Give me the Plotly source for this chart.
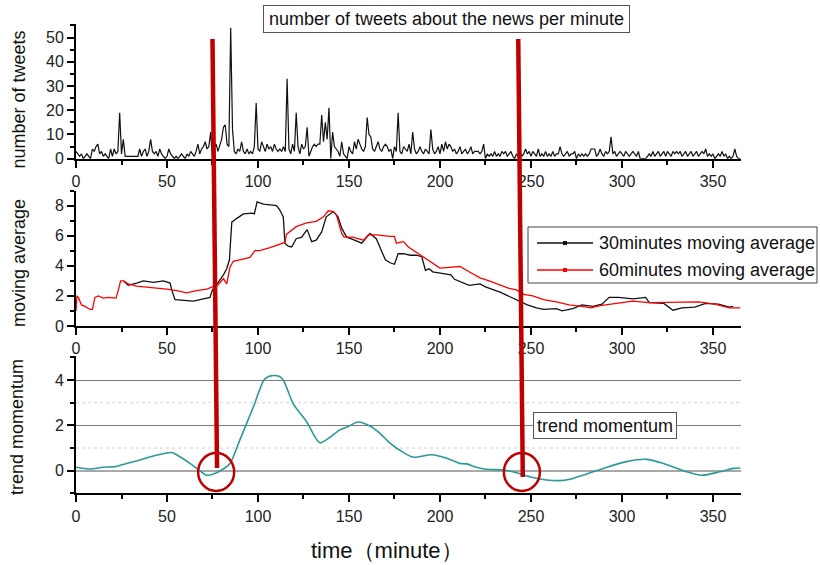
import plotly.graph_objects as go

# ---------------- data ----------------
tweets = (
    [3, 2, 1, 2, 0, 1, 2, 1, 0, 4] +
    [3, 5, 6, 2, 3, 1, 2, 1, 0, 4] +
    [1, 4, 2, 3, 19, 2, 8, 1, 1, 1] +
    [1, 1, 1, 1, 1, 4, 1, 3, 4, 1] +
    [3, 8, 3, 2, 3, 1, 4, 2, 1, 0] +
    [1, 4, 2, 1, 0, 1, 0, 1, 2, 1] +
    [0, 2, 1, 3, 2, 1, 3, 6, 2, 4] +
    [5, 7, 4, 5, 11, 0, 5, 6, 3, 6] +
    [8, 13, 14, 6, 5, 54, 12, 3, 2, 4] +
    [3, 7, 3, 2, 4, 2, 3, 2, 5, 23] +
    [4, 3, 7, 5, 3, 6, 4, 5, 3, 6] +
    [4, 3, 4, 3, 5, 3, 33, 4, 2, 6] +
    [3, 19, 5, 2, 6, 4, 5, 13, 1, 3] +
    [5, 6, 5, 6, 6, 18, 7, 15, 8, 21] +
    [0, 11, 5, 4, 3, 1, 7, 2, 1, 0] +
    [5, 3, 2, 7, 4, 8, 6, 4, 3, 5] +
    [17, 10, 9, 4, 3, 5, 7, 4, 3, 5] +
    [6, 5, 3, 4, 0, 5, 3, 19, 3, 2] +
    [5, 4, 3, 6, 2, 11, 4, 2, 3, 5] +
    [3, 2, 4, 3, 2, 12, 4, 2, 3, 5] +
    [2, 6, 3, 7, 4, 6, 5, 3, 4, 2] +
    [3, 5, 2, 3, 4, 2, 3, 5, 2, 3] +
    [3, 3, 2, 3, 6, 0, 2, 1, 2, 1] +
    [3, 1, 2, 1, 3, 2, 3, 1, 2, 3] +
    [1, 0, 2, 1, 3, 1, 2, 4, 2, 3] +
    [1, 3, 2, 1, 4, 1, 2, 1, 3, 1] +
    [2, 1, 3, 1, 2, 2, 5, 2, 1, 2] +
    [3, 1, 2, 2, 3, 0, 2, 1, 2, 1] +
    [2, 1, 2, 4, 4, 4, 1, 2, 4, 2] +
    [1, 3, 2, 3, 9, 2, 3, 1, 2, 3] +
    [2, 1, 3, 2, 1, 2, 3, 2, 1, 3] +
    [0, 0, 0, 0, 1, 2, 1, 3, 1, 2] +
    [3, 1, 2, 3, 1, 3, 2, 1, 3, 2] +
    [3, 2, 3, 1, 2, 3, 1, 2, 3, 1] +
    [2, 3, 1, 2, 3, 2, 4, 1, 2, 1] +
    [2, 0, 1, 2, 1, 3, 1, 2, 0, 1] +
    [0, 1, 4, 1, 0, 0]
)
minutes = list(range(len(tweets)))

ma60_t = [0, 0.5, 1.3, 3, 5, 7.7, 9, 10.4, 12.3, 15, 18, 22, 23.3, 24.5, 26, 28.7, 33.3, 38.8,
          44.3, 49.8, 55.3, 60.8, 66.3, 71.8, 75, 78.2, 81, 82.8, 84.6, 86.4, 90, 95.6, 98.3,
          101, 106.6, 112, 114.8, 115.7, 121, 126.7, 132, 136, 138.6, 141.4, 143, 146, 147.3,
          152, 158, 160.6, 165, 172.5, 175, 176, 180, 182.6, 185, 191, 196, 200, 205, 211, 216,
          222, 227, 233, 238, 242, 246, 251, 257, 264, 271, 278, 283, 288, 297, 306, 315, 324,
          333, 342, 351, 359, 365]
ma60_v = [1.0, 2.0, 1.9, 1.4, 1.3, 1.1, 1.1, 1.9, 2.0, 1.85, 1.9, 1.85, 2.4, 3.0, 3.0, 2.8, 2.65,
          2.6, 2.55, 2.45, 2.35, 2.2, 2.35, 2.45, 2.6, 2.75, 3.15, 2.8, 3.9, 4.3, 4.4, 4.55, 5.0,
          5.0, 5.2, 5.45, 5.55, 6.1, 6.6, 6.85, 6.95, 7.25, 7.65, 7.6, 7.4, 6.15, 5.9, 5.9, 5.7,
          6.05, 6.05, 5.95, 5.95, 5.5, 5.6, 5.25, 5.05, 4.6, 4.15, 3.85, 3.9, 3.95, 3.6, 3.2, 3.0,
          2.7, 2.5, 2.4, 2.1, 2.0, 1.75, 1.6, 1.4, 1.3, 1.2, 1.35, 1.5, 1.65, 1.55, 1.55, 1.55,
          1.6, 1.45, 1.2, 1.2]

ma30_t = [26, 28.7, 33.3, 37, 42.6, 48, 51.7, 52.6, 54.4, 59, 64.5, 70, 73.6, 75, 77.3, 81, 82.8,
          84.3, 85.6, 88.4, 92, 96.7, 98, 99.5, 103, 106.6, 110.2, 112, 113.9, 114.8, 116.6,
          118.5, 121, 124, 127, 129.5, 132, 135, 137.5, 141.4, 144, 146, 148.7, 152, 157, 161.5,
          165, 168, 170, 172.5, 175, 177, 180, 183.6, 187, 190, 192, 194, 196, 201, 206, 208,
          216, 222, 225, 233, 238, 242, 248, 253, 257, 264, 267, 273, 278, 284, 289, 293, 298,
          306, 313, 315, 323, 328, 333, 340, 346, 353, 359, 361]
ma30_v = [3.0, 2.7, 2.85, 3.0, 2.9, 3.0, 2.85, 2.4, 1.75, 1.7, 1.65, 1.8, 1.9, 2.4, 2.75, 3.4,
          3.8, 4.4, 6.9, 7.15, 7.45, 7.5, 7.45, 8.25, 8.1, 8.05, 8.0, 7.7, 7.25, 5.5, 5.3, 5.25,
          5.8, 5.9, 6.4, 5.6, 5.7, 6.25, 7.25, 7.6, 7.25, 6.5, 5.9, 5.75, 5.5, 6.15, 5.8, 4.95,
          4.4, 4.2, 4.1, 4.8, 4.8, 4.7, 4.7, 4.6, 3.7, 3.8, 3.6, 3.5, 3.4, 3.1, 2.7, 2.8, 2.6,
          2.25, 1.95, 1.75, 1.4, 1.2, 1.1, 1.15, 1.0, 1.15, 1.4, 1.3, 1.45, 1.9, 1.9, 1.8, 1.9,
          1.55, 1.5, 1.05, 1.2, 1.25, 1.5, 1.45, 1.25, 1.3]

mom_t = [0, 7.7, 15, 22, 27.8, 33.3, 42.5, 52.6, 55.3, 62.6, 68, 71.8, 75.5, 80, 84.6, 90, 97.4,
         103.8, 108.4, 113, 119.4, 126.8, 134, 139.5, 145, 149.6, 155, 161.5, 167, 171.6, 176,
         178, 185, 195.4, 203.7, 211, 214.6, 220, 225.6, 234.8, 242, 251, 258.6, 265.9, 271.4,
         280.6, 289.7, 302.5, 313.5, 322.7, 333.7, 343.8, 353.8, 361.2, 365]
mom_v = [0.15, 0.07, 0.15, 0.18, 0.32, 0.43, 0.65, 0.8, 0.7, 0.32, 0.0, -0.2, -0.15, 0.03, 0.32,
         1.35, 2.8, 4.05, 4.2, 4.1, 2.95, 2.15, 1.23, 1.47, 1.8, 1.95, 2.15, 1.97, 1.65, 1.28,
         1.0, 0.9, 0.6, 0.7, 0.55, 0.32, 0.3, 0.15, 0.06, 0.03, -0.09, -0.3, -0.41, -0.44, -0.38,
         -0.15, 0.1, 0.4, 0.5, 0.32, 0.0, -0.2, -0.05, 0.1, 0.12]

event_minutes = [77, 245]

x_ticks = [0, 50, 100, 150, 200, 250, 300, 350]

series_names = ["30minutes moving average", "60minutes moving average"]
series_colors = ["#111111", "#ff0000"]

# ---------------- figure ----------------
FONT = "Liberation Sans, Arial, sans-serif"
W, H = 820, 565
L, R = 76, 79


def py(p):
    return 1 - p / H


def px(p):
    return (p - L) / (W - L - R)


fig = go.Figure()
fig.add_trace(go.Scatter(x=minutes, y=tweets, mode="lines", line=dict(color="#111", width=1.2),
                         xaxis="x", yaxis="y", showlegend=False))
fig.add_trace(go.Scatter(x=ma30_t, y=ma30_v, mode="lines", name=series_names[0],
                         line=dict(color=series_colors[0], width=1.3),
                         xaxis="x2", yaxis="y2", showlegend=False))
fig.add_trace(go.Scatter(x=ma60_t, y=ma60_v, mode="lines", name=series_names[1],
                         line=dict(color=series_colors[1], width=1.3),
                         xaxis="x2", yaxis="y2", showlegend=False))
fig.add_trace(go.Scatter(x=mom_t, y=mom_v, mode="lines",
                         line=dict(color="#2a9a98", width=1.6, shape="spline", smoothing=0.8),
                         xaxis="x3", yaxis="y3", showlegend=False))

xrange = [0, 365.4]
minor_x = dict(dtick=25, tick0=0, ticks="outside", ticklen=4, tickwidth=1.5, tickcolor="black")
xcommon = dict(range=xrange, showline=True, linecolor="black", linewidth=2, tickvals=x_ticks,
               ticks="outside", ticklen=7, tickwidth=1.5, tickcolor="black", showgrid=False,
               zeroline=False, automargin=False,
               tickfont=dict(family=FONT, size=16, color="#222"), minor=minor_x)
ycommon = dict(showline=True, linecolor="black", linewidth=2, ticks="outside", ticklen=7, tickwidth=1.5,
               tickcolor="black", automargin=False, tickfont=dict(family=FONT, size=16, color="#222"))

fig.update_layout(
    template="none",
    width=W, height=H, autosize=False,
    margin=dict(l=L, r=R, t=0, b=0, pad=0, autoexpand=False),
    plot_bgcolor="white", paper_bgcolor="white",
    showlegend=False,
    xaxis=dict(domain=[0, 1], anchor="y", **xcommon),
    xaxis2=dict(domain=[0, 1], anchor="y2", **xcommon),
    xaxis3=dict(domain=[0, 1], anchor="y3", **xcommon),
    yaxis=dict(domain=[py(158.7), py(24)], anchor="x", range=[0, 55.6], dtick=10, tick0=0,
               minor=dict(dtick=5, tick0=0, ticks="outside", ticklen=4, tickwidth=1.5, tickcolor="black"),
               showgrid=False, zeroline=False, **ycommon),
    yaxis2=dict(domain=[py(326), py(190.5)], anchor="x2", range=[0, 9], dtick=2, tick0=0,
                minor=dict(dtick=1, tick0=0, ticks="outside", ticklen=4, tickwidth=1.5, tickcolor="black"),
                showgrid=False, zeroline=False, **ycommon),
    yaxis3=dict(domain=[py(493.3), py(356.3)], anchor="x3", range=[-1, 5.05], dtick=2, tick0=0,
                minor=dict(dtick=1, tick0=0, ticks="outside", ticklen=4, tickwidth=1.5, tickcolor="black"),
                showgrid=True, gridcolor="#7a7a7a", gridwidth=1,
                zeroline=True, zerolinecolor="#a8a8a8", zerolinewidth=2, **ycommon),
)

shapes = []
for v in [1, 3]:
    shapes.append(dict(type="line", xref="paper", yref="y3", x0=0, x1=1, y0=v, y1=v, layer="below",
                       line=dict(color="#d0d0d0", width=1, dash="dot")))
bottoms = [py(468), py(477)]
for ev, yb in zip(event_minutes, bottoms):
    shapes.append(dict(type="line", xref="x", yref="paper", x0=ev - 2, x1=ev + 0.5, y0=py(39), y1=yb,
                       line=dict(color="#c00000", width=4.5)))
    shapes.append(dict(type="circle", xref="x", yref="paper", x0=ev - 9.9, x1=ev + 9.9, y0=py(491), y1=py(453),
                       line=dict(color="#c00000", width=2.5)))

# legend box (drawn like the original's framed legend)
shapes.append(dict(type="rect", xref="paper", yref="paper", x0=px(528), x1=px(817), y0=py(283), y1=py(227),
                   line=dict(color="#444", width=1), fillcolor="white"))
ann_font = dict(family=FONT, size=18, color="#111")
annotations = []
for i, (nm, col) in enumerate(zip(series_names, series_colors)):
    yy = 243 + 27 * i
    shapes.append(dict(type="line", xref="paper", yref="paper", x0=px(537), x1=px(593), y0=py(yy), y1=py(yy),
                       line=dict(color=col, width=1.5)))
    shapes.append(dict(type="rect", xref="paper", yref="paper", x0=px(563), x1=px(567), y0=py(yy + 2), y1=py(yy - 2),
                       line=dict(color=col, width=0), fillcolor=col))
    annotations.append(dict(text=nm, x=px(597), y=py(yy), xref="paper", yref="paper", xanchor="left",
                            yanchor="middle", showarrow=False, font=ann_font))
fig.update_layout(shapes=shapes)

annotations += [
    dict(text="number of tweets about the news per minute", x=px(446.5), y=py(19.5), xref="paper", yref="paper",
         xanchor="center", yanchor="middle", width=361, height=22,
         showarrow=False, font=ann_font, bordercolor="#555", borderwidth=1, borderpad=2, bgcolor="white"),
    dict(text="trend momentum", x=px(605), y=py(425.5), xref="paper", yref="paper",
         xanchor="center", yanchor="middle", width=138, height=21,
         showarrow=False, font=ann_font, bordercolor="#555", borderwidth=1, borderpad=2, bgcolor="white"),
    dict(text="number of tweets", x=px(19), y=py(99.5), xref="paper", yref="paper", textangle=-90,
         xanchor="center", yanchor="middle", showarrow=False, font=ann_font),
    dict(text="moving average", x=px(19), y=py(263), xref="paper", yref="paper", textangle=-90,
         xanchor="center", yanchor="middle", showarrow=False, font=ann_font),
    dict(text="trend momentum", x=px(17), y=py(427), xref="paper", yref="paper", textangle=-90,
         xanchor="center", yanchor="middle", showarrow=False, font=ann_font),
    dict(text="time（minute）", x=px(387), y=py(550), xref="paper", yref="paper",
         xanchor="center", yanchor="middle", showarrow=False, font=dict(family=FONT, size=22, color="#111")),
]
fig.update_layout(annotations=annotations)

fig.write_html("out.html", config={"displayModeBar": False},
               post_script="document.body.style.margin='0';")
